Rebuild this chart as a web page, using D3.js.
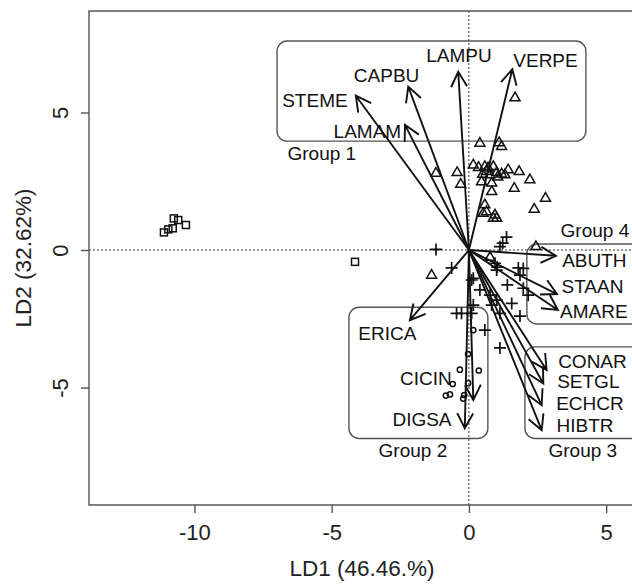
<!DOCTYPE html>
<html>
<head>
<meta charset="utf-8">
<script src="https://cdn.jsdelivr.net/npm/d3@7"></script>
<style>
  html, body { margin: 0; padding: 0; background: #fff; }
  svg { display: block; font-family: "Liberation Sans", Arial, Helvetica, sans-serif; }
</style>
</head>
<body>
<svg id="chart" width="632" height="585"></svg>
<script>
// ---- data (LD1, LD2 coordinates) ----
const xTicks = [-10, -5, 0, 5];
const yTicks = [-5, 0, 5];
const xTitle = "LD1 (46.46.%)";
const yTitle = "LD2 (32.62%)";

const squares = [
  [-11.11, 0.64], [-10.95, 0.75], [-10.79, 0.79], [-10.75, 1.15],
  [-10.59, 1.09], [-10.31, 0.91], [-4.15, -0.43]
];
const triangles = [
  [1.68, 5.53], [0.40, 3.88], [1.10, 3.90], [1.19, 3.76], [0.16, 3.09],
  [-1.20, 2.79], [-0.43, 2.81], [-0.30, 2.39], [0.58, 3.03], [0.89, 3.03],
  [0.64, 2.85], [0.77, 2.73], [1.01, 2.81], [1.19, 2.76], [1.31, 2.73],
  [1.43, 2.91], [1.83, 2.85], [2.22, 2.55], [1.65, 2.24], [0.46, 2.48],
  [0.83, 2.43], [0.83, 2.12], [2.79, 1.88], [2.38, 1.48], [0.58, 1.64],
  [0.52, 1.33], [0.64, 1.39], [0.95, 1.27], [1.01, 1.15], [0.89, 1.15],
  [2.44, 0.12], [-1.36, -0.92], [0.77, -0.27], [0.35, 3.00], [0.50, 2.75],
  [0.70, 2.98], [1.05, 2.65]
];
const pluses = [
  [-1.20, 0.02], [-0.63, -0.65], [1.37, 0.47], [1.23, 0.25], [1.13, 0.12],
  [0.95, -0.48], [1.03, -0.62], [1.01, -0.73], [1.80, -0.65], [1.98, -0.67],
  [1.86, -0.91], [1.40, -1.27], [1.98, -1.39], [2.16, -1.64], [0.16, -1.03],
  [0.40, -1.45], [0.77, -1.64], [1.01, -1.82], [0.83, -2.00], [1.56, -1.94],
  [-0.45, -2.30], [-0.27, -2.30], [0.10, -2.30], [1.13, -2.30], [1.86, -2.40],
  [0.58, -2.91], [1.13, -3.56], [0.10, -1.09], [0.16, -2.00]
];
const circles = [
  [0.16, -2.91], [-0.03, -3.78], [-0.33, -4.35], [0.36, -4.38], [-0.03, -4.84],
  [-0.59, -4.87], [-0.84, -5.29], [-0.69, -5.25], [-0.21, -5.40], [-0.17, -5.27]
];

// species loadings (arrow tips)
const species = ["STEME", "CAPBU", "LAMAM", "LAMPU", "VERPE", "ABUTH", "STAAN", "AMARE",
                 "CONAR", "SETGL", "ECHCR", "HIBTR", "ERICA", "CICIN", "DIGSA"];
const loadX = [-4.12, -2.21, -2.33, -0.39, 1.58, 3.17, 3.21, 3.24,
               2.83, 2.71, 2.65, 2.65, -2.15, 0.16, -0.15];
const loadY = [5.61, 5.94, 4.55, 6.48, 6.57, -0.21, -1.60, -2.18,
               -4.36, -4.85, -5.64, -6.55, -2.55, -5.45, -6.48];
// label anchor points (centre, baseline) in LD units
const labelX = [-5.61, -3.00, -3.70, -0.36, 2.79, 4.57, 4.50, 4.55,
                4.50, 4.35, 4.41, 4.23, -2.97, -1.57, -1.71];
const labelY = [5.20, 6.11, 4.07, 6.84, 6.65, -0.62, -1.56, -2.47,
                -4.29, -5.02, -5.82, -6.62, -3.27, -4.91, -6.40];

// group boxes [x0, x1, y0, y1] in LD units
const groups = ["Group 1", "Group 2", "Group 3", "Group 4"];
const boxX0 = [-6.99, -4.37, 2.04, 2.11];
const boxX1 = [4.26, 0.69, 6.6, 6.6];
const boxY0 = [3.96, -6.85, -6.85, -2.69];
const boxY1 = [7.60, -2.08, -3.52, 0.22];
const groupLabX = [-5.36, -2.04, 4.15, 4.59];
const groupLabY = [3.27, -7.53, -7.53, 0.47];

// ---- layout ----
const svg = d3.select("#chart");
const L = 89, R = 635, T = 11, B = 505;
const x = d3.scaleLinear().domain([-13.84, 6.05]).range([L, R]);
const y = d3.scaleLinear().domain([-9.27, 8.69]).range([B, T]);
const ink = "#111";
const frame = "#555";

// dotted zero lines
svg.append("line").attr("x1", x(0)).attr("x2", x(0)).attr("y1", T).attr("y2", B)
  .attr("stroke", "#333").attr("stroke-width", 1).attr("stroke-dasharray", "2,2");
svg.append("line").attr("x1", L).attr("x2", R).attr("y1", y(0)).attr("y2", y(0))
  .attr("stroke", "#333").attr("stroke-width", 1).attr("stroke-dasharray", "2,2");

// group boxes
groups.forEach((g, i) => {
  svg.append("rect")
    .attr("x", x(boxX0[i])).attr("y", y(boxY1[i]))
    .attr("width", x(boxX1[i]) - x(boxX0[i])).attr("height", y(boxY0[i]) - y(boxY1[i]))
    .attr("rx", 10).attr("ry", 10)
    .attr("fill", "none").attr("stroke", "#555").attr("stroke-width", 1.4);
  svg.append("text").attr("x", x(groupLabX[i])).attr("y", y(groupLabY[i]))
    .attr("text-anchor", "middle").attr("font-size", 19).attr("fill", ink).text(g);
});

// points
const pts = svg.append("g").attr("fill", "none").attr("stroke", ink).attr("stroke-width", 1.5);
pts.selectAll("rect.sq").data(squares).join("rect").attr("class", "sq")
  .attr("x", d => x(d[0]) - 3.5).attr("y", d => y(d[1]) - 3.5)
  .attr("width", 7).attr("height", 7);
const triPath = (cx, cy) => {
  const s = 10, h = s * Math.sqrt(3) / 2;
  return `M${cx},${cy - h * 2 / 3}L${cx + s / 2},${cy + h / 3}L${cx - s / 2},${cy + h / 3}Z`;
};
pts.selectAll("path.tri").data(triangles).join("path").attr("class", "tri")
  .attr("d", d => triPath(x(d[0]), y(d[1])));
pts.selectAll("path.plus").data(pluses).join("path").attr("class", "plus")
  .attr("d", d => { const cx = x(d[0]), cy = y(d[1]), a = 6;
    return `M${cx - a},${cy}H${cx + a}M${cx},${cy - a}V${cy + a}`; })
  .attr("stroke-width", 1.7);
pts.selectAll("circle.c").data(circles).join("circle").attr("class", "c")
  .attr("cx", d => x(d[0])).attr("cy", d => y(d[1])).attr("r", 2.6);

// arrows
const arr = svg.append("g").attr("stroke", ink).attr("stroke-width", 1.9).attr("fill", "none");
const ox = x(0), oy = y(0);
species.forEach((s, i) => {
  const tx = x(loadX[i]), ty = y(loadY[i]);
  const ang = Math.atan2(ty - oy, tx - ox);
  const len = 17, spread = 28 * Math.PI / 180;
  const h1x = tx - len * Math.cos(ang - spread), h1y = ty - len * Math.sin(ang - spread);
  const h2x = tx - len * Math.cos(ang + spread), h2y = ty - len * Math.sin(ang + spread);
  arr.append("path").attr("d", `M${ox},${oy}L${tx},${ty}M${h1x},${h1y}L${tx},${ty}L${h2x},${h2y}`);
  svg.append("text").attr("x", x(labelX[i])).attr("y", y(labelY[i]))
    .attr("text-anchor", "middle").attr("font-size", 19).attr("fill", ink).text(s);
});

// frame
svg.append("path").attr("d", `M${R + 5},${T}H${L}V${B}H${R + 5}`)
  .attr("fill", "none").attr("stroke", frame).attr("stroke-width", 1.4);

// axes
const fmt = d => String(d);
const xa = svg.append("g").attr("transform", `translate(0,${B})`)
  .call(d3.axisBottom(x).tickValues(xTicks).tickSize(8).tickPadding(11).tickFormat(fmt));
xa.select(".domain").remove();
xa.selectAll("line").attr("stroke", frame).attr("stroke-width", 1.4);
xa.selectAll("text").attr("font-size", 22).attr("fill", "#222").attr("font-family", "Liberation Sans, Arial, sans-serif");

const ya = svg.append("g").attr("transform", `translate(${L},0)`)
  .call(d3.axisLeft(y).tickValues(yTicks).tickSize(8).tickFormat(fmt));
ya.select(".domain").remove();
ya.selectAll("line").attr("stroke", frame).attr("stroke-width", 1.4);
ya.selectAll("text").attr("font-size", 22).attr("fill", "#222")
  .attr("font-family", "Liberation Sans, Arial, sans-serif")
  .attr("x", 0).attr("dy", 0).attr("text-anchor", "middle")
  .attr("transform", "translate(-21,0) rotate(-90)");

// titles
svg.append("text").attr("x", (L + R) / 2).attr("y", 576).attr("text-anchor", "middle")
  .attr("font-size", 22.5).attr("fill", "#222").text(xTitle);
svg.append("text").attr("transform", `translate(31,${(T + B) / 2}) rotate(-90)`)
  .attr("text-anchor", "middle").attr("font-size", 22.5).attr("fill", "#222").text(yTitle);
</script>
</body>
</html>
